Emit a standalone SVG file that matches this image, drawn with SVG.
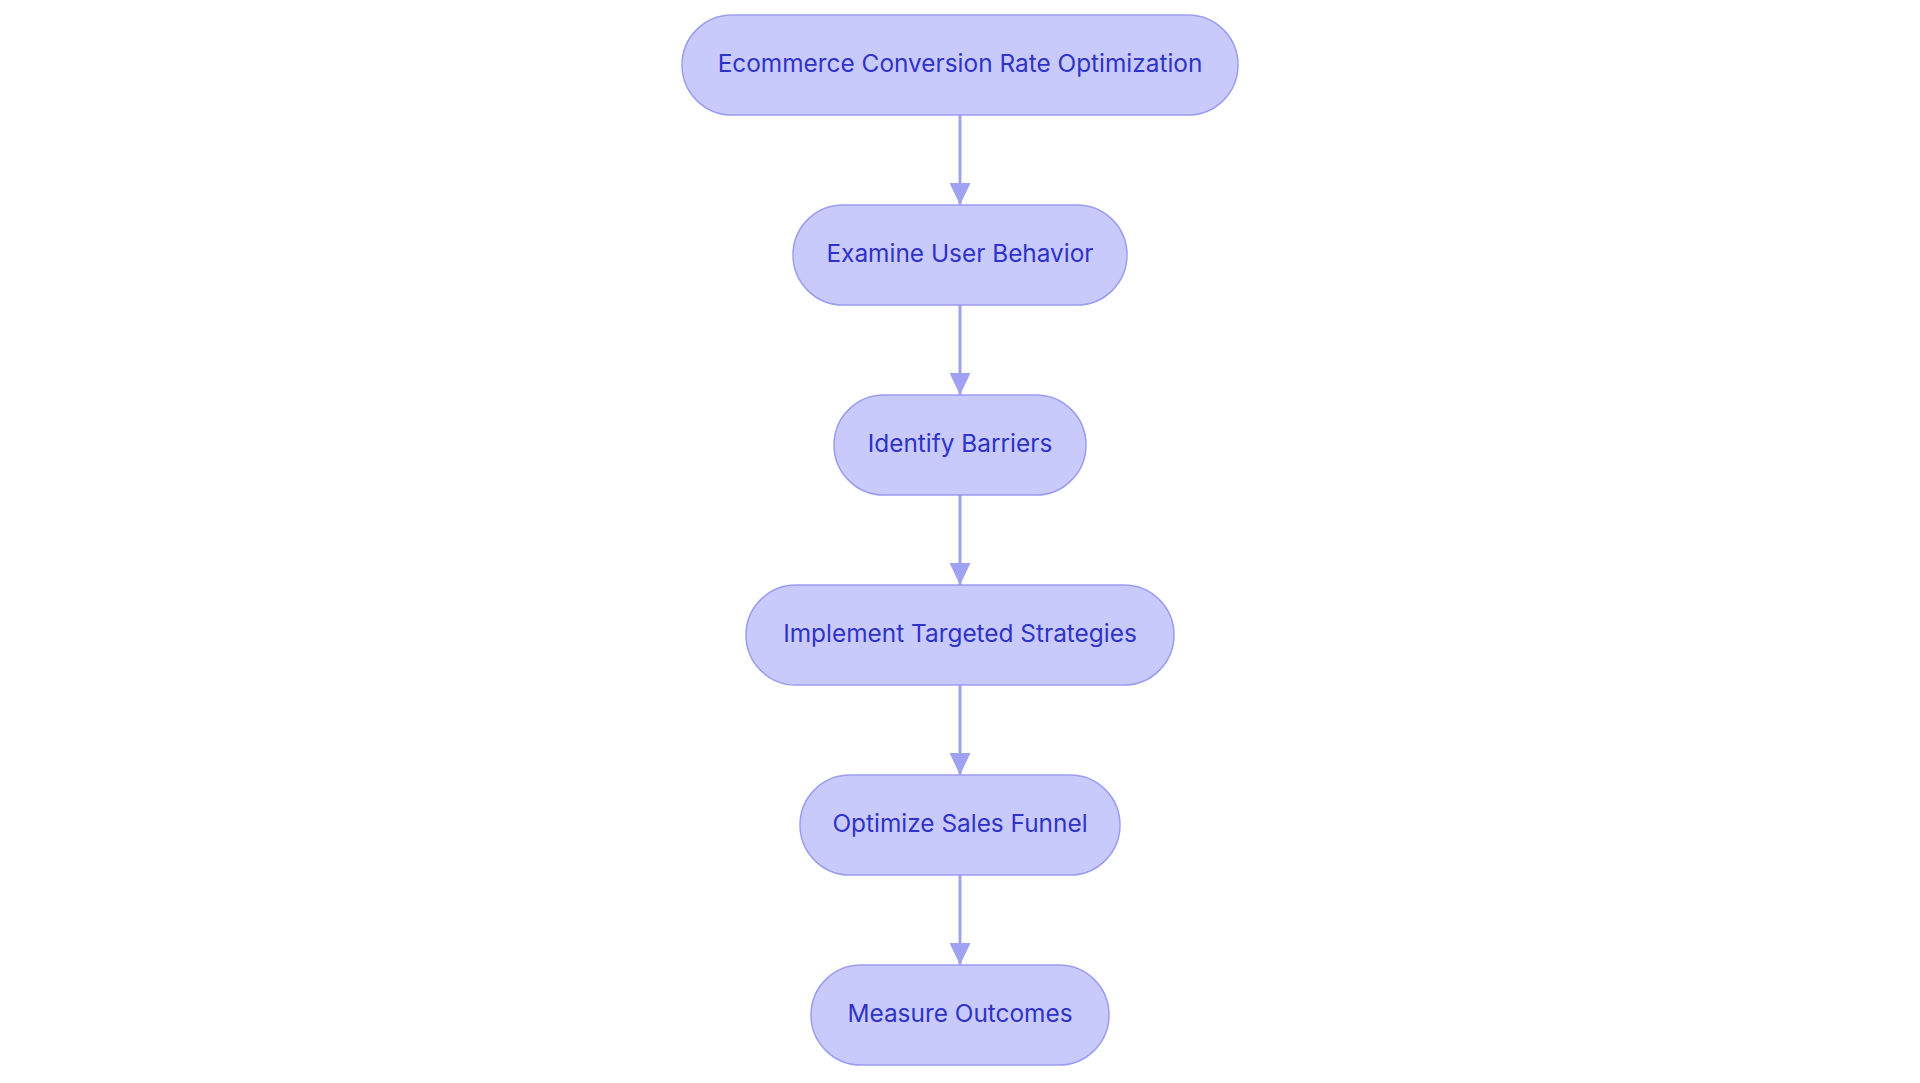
<svg xmlns="http://www.w3.org/2000/svg" width="1920" height="1083" viewBox="0 0 1920 1083">
<defs>
<style>
.node rect{fill:#C9CAFC;stroke:#9A9DF0;stroke-width:1.5}
.node text{font-family:Inter,"Noto Sans",sans-serif;font-size:24.4px;font-weight:400;fill:#2F33C6;text-anchor:middle;dominant-baseline:central}
.edge{stroke:#9FA2F0;stroke-width:3;fill:none}
</style>
<marker id="arr" viewBox="0 0 22 21" refX="22" refY="10.5" markerWidth="22" markerHeight="21" markerUnits="userSpaceOnUse" orient="auto">
<path d="M0,0 L22,10.5 L0,21 Z" fill="#9FA2F0"/>
</marker>
</defs>
<rect width="1920" height="1083" fill="#FFFFFF"/>
<g id="connectors">
<line class="edge" x1="960" y1="115" x2="960" y2="205" marker-end="url(#arr)"/>
<line class="edge" x1="960" y1="305" x2="960" y2="395" marker-end="url(#arr)"/>
<line class="edge" x1="960" y1="495" x2="960" y2="585" marker-end="url(#arr)"/>
<line class="edge" x1="960" y1="685" x2="960" y2="775" marker-end="url(#arr)"/>
<line class="edge" x1="960" y1="875" x2="960" y2="965" marker-end="url(#arr)"/>
</g>
<g id="n1" class="node"><rect x="682" y="15" width="556" height="100" rx="50" ry="50"/><text x="960" y="62.5">Ecommerce Conversion Rate Optimization</text></g>
<g id="n2" class="node"><rect x="793" y="205" width="334" height="100" rx="50" ry="50"/><text x="960" y="252.5">Examine User Behavior</text></g>
<g id="n3" class="node"><rect x="834" y="395" width="252" height="100" rx="50" ry="50"/><text x="960" y="442.5">Identify Barriers</text></g>
<g id="n4" class="node"><rect x="746" y="585" width="428" height="100" rx="50" ry="50"/><text x="960" y="632.5">Implement Targeted Strategies</text></g>
<g id="n5" class="node"><rect x="800" y="775" width="320" height="100" rx="50" ry="50"/><text x="960" y="822.5">Optimize Sales Funnel</text></g>
<g id="n6" class="node"><rect x="811" y="965" width="298" height="100" rx="50" ry="50"/><text x="960" y="1012.5">Measure Outcomes</text></g>
</svg>
